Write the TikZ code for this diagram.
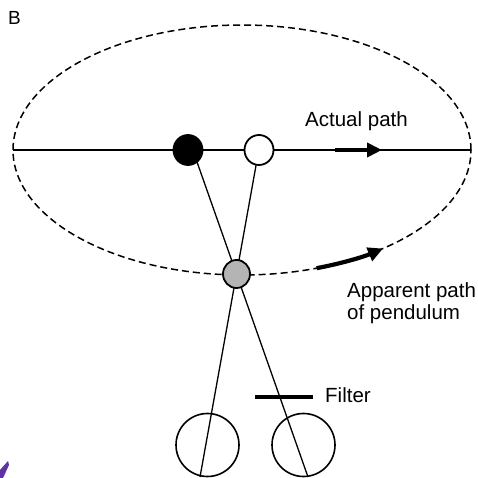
\documentclass[tikz,border=0pt]{standalone}
\usepackage{fontspec}
\setmainfont{Liberation Sans}
\usetikzlibrary{shapes.geometric,arrows.meta}
\definecolor{ballgray}{RGB}{180,180,180}
\definecolor{markpurple}{RGB}{95,50,165}
\newcommand{\lblfont}{\fontsize{20.5}{22}\selectfont}
\newcommand{\panelfont}{\fontsize{19}{21}\selectfont}
\tikzset{
  ball/.style={ellipse,draw=black,line width=1.8pt,minimum width=29pt,minimum height=30pt,inner sep=0pt},
  eye/.style={circle,draw=black,line width=1.6pt,minimum size=63pt,inner sep=0pt},
  ray/.style={line width=1.3pt},
  lbl/.style={anchor=base west,inner sep=0pt,font=\lblfont},
  panel/.style={anchor=base west,inner sep=0pt,font=\panelfont},
  bigarrow/.style={line width=4.2pt,-{Triangle[length=15pt,width=14pt]}},
}
\begin{document}
\begin{tikzpicture}[x=1pt,y=1pt]
\useasboundingbox (0,0) rectangle (477,478);
% dashed apparent path
\draw[line width=1.5pt,dash pattern=on 7pt off 4pt] (242,328) ellipse [x radius=229pt,y radius=125pt];
% actual path line
\coordinate (pl) at (13,328);
\coordinate (pr) at (471,328);
\draw[ray] (pl) -- (pr);
% eyes
\node[eye] (leye) at (207.5,33) {};
\node[eye] (reye) at (303.5,33) {};
\coordinate (lfoot) at (200,1);
\coordinate (rfoot) at (308,1);
\coordinate (wend) at (257,318);
\coordinate (bend) at (192.8,328);
\draw[ray] (lfoot) -- (wend);
\draw[ray] (rfoot) -- (bend);
% pendulum balls
\node[ball,fill=black] (black) at (188,328) {};
\node[ball,fill=white] (white) at (259,328) {};
\node[ball,fill=ballgray,minimum width=27pt,minimum height=28pt] (gray) at (236.5,204) {};
% arrows
\coordinate (a1) at (335,328);
\coordinate (a2) at (382,328);
\draw[bigarrow] (a1) -- (a2);
\coordinate (c1) at (316.6,209.8);
\draw[bigarrow] (c1) arc[start angle=-71,end angle=-52,x radius=229pt,y radius=125pt];
% filter
\coordinate (f1) at (255,81);
\coordinate (f2) at (313,81);
\draw[line width=4pt] (f1) -- (f2);
% labels
\node[panel] (B) at (8,453) {B};
\node[lbl] (actual) at (305,351) {Actual path};
\node[lbl] (app1) at (347,180) {Apparent path};
\node[lbl] (app2) at (347,158) {of pendulum};
\node[lbl] (filter) at (325,75) {Filter};
% purple corner mark
\fill[markpurple] (0,8) -- (8,17) -- (9,13) -- (3,0) -- (0,0) -- cycle;
\end{tikzpicture}
\end{document}
